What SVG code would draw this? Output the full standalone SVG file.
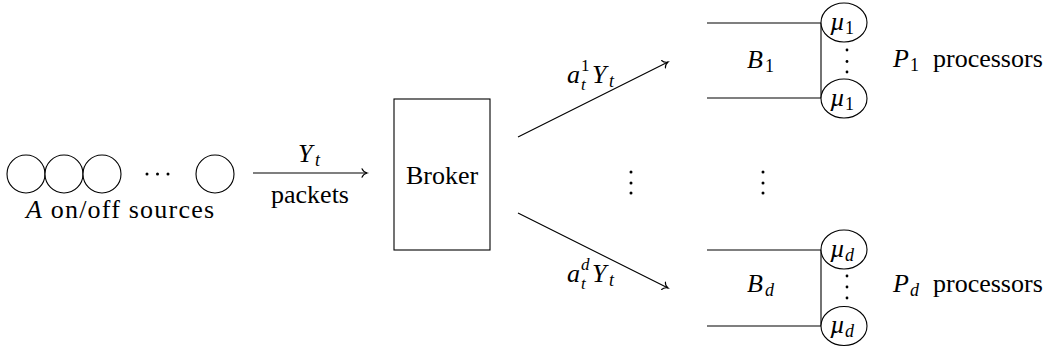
<svg xmlns="http://www.w3.org/2000/svg" width="1056" height="353" viewBox="0 0 1056 353">
<style>
  .ln { fill: none; stroke: #000; stroke-width: 1.1; }
  .nd { fill: #fff; stroke: #000; stroke-width: 1.1; }
  .dot { fill: #000; }
</style>
<defs>
  <marker id="arr" markerUnits="userSpaceOnUse" markerWidth="14" markerHeight="14" viewBox="-7 -7 14 14" refX="0" refY="0" orient="auto">
    <path d="M -5,-4.2 C -4,-1.5 -1.5,-0.4 0,0 C -1.5,0.4 -4,1.5 -5,4.2" fill="none" stroke="#000" stroke-width="1.1" stroke-linecap="round"/>
  </marker>
</defs>

<g id="sources">
  <circle class="nd" cx="26" cy="174" r="19"/>
  <circle class="nd" cx="64" cy="174" r="19"/>
  <circle class="nd" cx="102" cy="174" r="19"/>
  <circle class="nd" cx="215" cy="174" r="19"/>
  <circle class="dot" cx="147" cy="174" r="1.5"/>
  <circle class="dot" cx="157.5" cy="174" r="1.5"/>
  <circle class="dot" cx="168" cy="174" r="1.5"/>
  <text font-family="Liberation Serif" font-size="26" x="26" y="218" textLength="188"><tspan font-style="italic">A</tspan> on/off sources</text>
</g>

<g id="broker">
  <rect class="nd" x="394" y="99" width="96" height="151"/>
  <text font-family="Liberation Serif" font-size="26" x="442" y="184" text-anchor="middle">Broker</text>
</g>

<g id="connectors">
  <line class="ln" x1="253" y1="173" x2="367" y2="173" marker-end="url(#arr)"/>
  <line class="ln" x1="518" y1="137" x2="668" y2="62" marker-end="url(#arr)"/>
  <line class="ln" x1="518" y1="213" x2="668" y2="288" marker-end="url(#arr)"/>
</g>

<g id="labels" font-family="Liberation Serif" font-size="26">
  <text y="162"><tspan font-style="italic" x="298">Y</tspan><tspan font-style="italic" font-size="18" x="315" y="166">t</tspan></text>
  <text x="310" y="203" text-anchor="middle">packets</text>
  <text y="83"><tspan font-style="italic" x="567">a</tspan><tspan font-size="17" x="581" y="71">1</tspan><tspan font-style="italic" font-size="17" x="581" y="90">t</tspan><tspan font-style="italic" x="592" y="83">Y</tspan><tspan font-style="italic" font-size="18" x="609" y="87">t</tspan></text>
  <text y="282"><tspan font-style="italic" x="567">a</tspan><tspan font-style="italic" font-size="17" x="581" y="270">d</tspan><tspan font-style="italic" font-size="17" x="581" y="289">t</tspan><tspan font-style="italic" x="592" y="282">Y</tspan><tspan font-style="italic" font-size="18" x="609" y="286">t</tspan></text>
</g>

<g id="middle-dots">
  <circle class="dot" cx="631" cy="172" r="1.5"/>
  <circle class="dot" cx="631" cy="183" r="1.5"/>
  <circle class="dot" cx="631" cy="193" r="1.5"/>
  <circle class="dot" cx="763" cy="172" r="1.5"/>
  <circle class="dot" cx="763" cy="183" r="1.5"/>
  <circle class="dot" cx="763" cy="193" r="1.5"/>
</g>

<g id="queue1">
  <line class="ln" x1="707" y1="23" x2="821" y2="23"/>
  <line class="ln" x1="707" y1="98" x2="821" y2="98"/>
  <line class="ln" x1="821" y1="23" x2="821" y2="98"/>
  <text font-family="Liberation Serif" font-size="26" y="68"><tspan font-style="italic" x="747">B</tspan><tspan font-size="18" x="765" y="72">1</tspan></text>
</g>
<g id="server1a">
  <ellipse class="nd" cx="844" cy="22.5" rx="23" ry="19.5"/>
  <text font-family="Liberation Serif" font-size="26" y="30"><tspan font-style="italic" x="830">&#181;</tspan><tspan font-size="18" x="845" y="34">1</tspan></text>
</g>
<g id="server1b">
  <ellipse class="nd" cx="844" cy="98.5" rx="23" ry="19.5"/>
  <text font-family="Liberation Serif" font-size="26" y="106"><tspan font-style="italic" x="830">&#181;</tspan><tspan font-size="18" x="845" y="110">1</tspan></text>
</g>
<g id="dots1">
  <circle class="dot" cx="847" cy="50" r="1.4"/>
  <circle class="dot" cx="847" cy="61.5" r="1.4"/>
  <circle class="dot" cx="847" cy="72" r="1.4"/>
</g>
<g id="p1label">
  <text font-family="Liberation Serif" font-size="26" y="67"><tspan font-style="italic" x="893">P</tspan><tspan font-size="18" x="910" y="71">1</tspan><tspan x="933" y="67">processors</tspan></text>
</g>

<g id="queued">
  <line class="ln" x1="707" y1="250" x2="821" y2="250"/>
  <line class="ln" x1="707" y1="326" x2="821" y2="326"/>
  <line class="ln" x1="821" y1="250" x2="821" y2="326"/>
  <text font-family="Liberation Serif" font-size="26" y="292"><tspan font-style="italic" x="747">B</tspan><tspan font-style="italic" font-size="18" x="765" y="296">d</tspan></text>
</g>
<g id="serverda">
  <ellipse class="nd" cx="844" cy="249.5" rx="23" ry="19.5"/>
  <text font-family="Liberation Serif" font-size="26" y="257"><tspan font-style="italic" x="830">&#181;</tspan><tspan font-style="italic" font-size="18" x="845" y="261">d</tspan></text>
</g>
<g id="serverdb">
  <ellipse class="nd" cx="844" cy="326" rx="23" ry="19.5"/>
  <text font-family="Liberation Serif" font-size="26" y="333"><tspan font-style="italic" x="830">&#181;</tspan><tspan font-style="italic" font-size="18" x="845" y="337">d</tspan></text>
</g>
<g id="dotsd">
  <circle class="dot" cx="847" cy="276" r="1.4"/>
  <circle class="dot" cx="847" cy="287" r="1.4"/>
  <circle class="dot" cx="847" cy="298" r="1.4"/>
</g>
<g id="pdlabel">
  <text font-family="Liberation Serif" font-size="26" y="292"><tspan font-style="italic" x="893">P</tspan><tspan font-style="italic" font-size="18" x="910" y="296">d</tspan><tspan x="933" y="292">processors</tspan></text>
</g>
</svg>
